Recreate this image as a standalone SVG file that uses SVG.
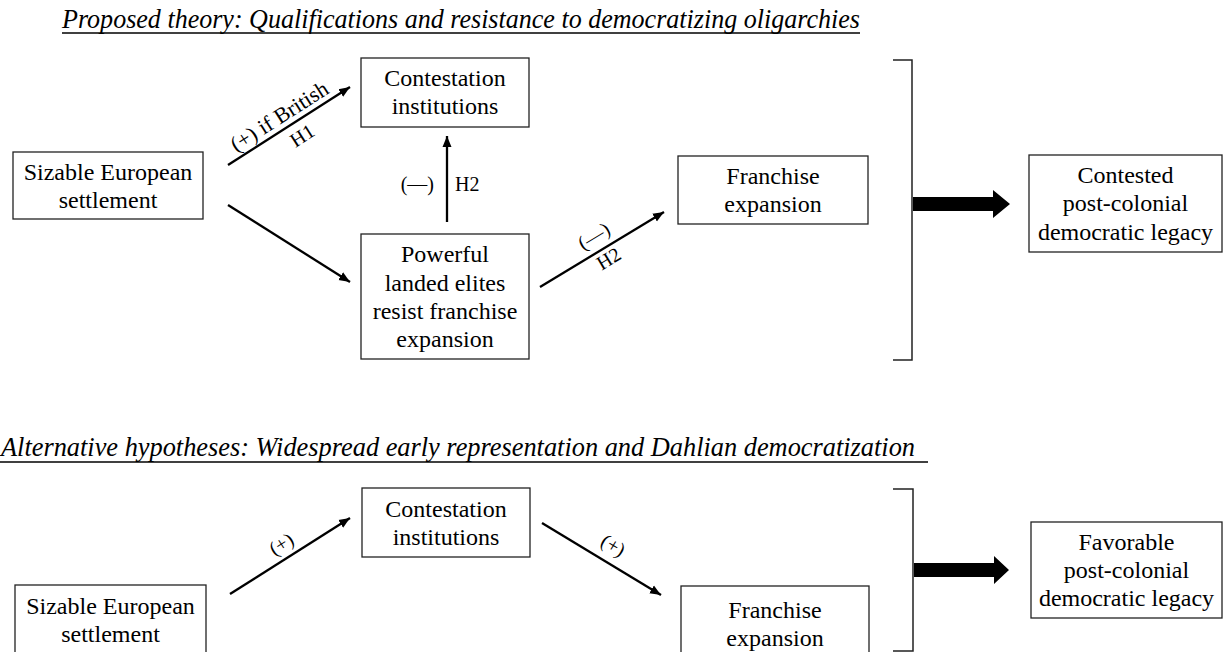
<svg xmlns="http://www.w3.org/2000/svg" width="1225" height="652" viewBox="0 0 1225 652">
  <style>
    .box { fill: #fff; stroke: #222; stroke-width: 1.3; }
    .t { font-family: "Liberation Serif", "Times New Roman", serif; font-size: 24px; fill: #000; text-anchor: middle; }
    .lbl { font-family: "Liberation Serif", "Times New Roman", serif; font-size: 20px; fill: #000; text-anchor: middle; }
    .title { font-family: "Liberation Serif", "Times New Roman", serif; font-size: 28px; font-style: italic; fill: #000; }
    .ul { stroke: #000; stroke-width: 1.3; }
    .conn { stroke: #000; stroke-width: 2.3; fill: none; marker-end: url(#ah); }
    .brk { stroke: #222; stroke-width: 1.5; fill: none; }
    .big { fill: #000; }
  </style>
  <defs>
    <marker id="ah" markerUnits="userSpaceOnUse" markerWidth="12" markerHeight="10" refX="11" refY="5" orient="auto">
      <path d="M0,0.5 L11,5 L0,9.5 z" fill="#000"/>
    </marker>
  </defs>

  <g id="titles">
    <text class="title" x="62" y="28" textLength="798" lengthAdjust="spacingAndGlyphs">Proposed theory: Qualifications and resistance to democratizing oligarchies</text>
    <line class="ul" x1="62" y1="33" x2="860" y2="33"/>
    <text class="title" x="1" y="456" textLength="914" lengthAdjust="spacingAndGlyphs">Alternative hypotheses: Widespread early representation and Dahlian democratization</text>
    <line class="ul" x1="0" y1="462" x2="928" y2="462"/>
  </g>

  <g id="connectors">
    <line class="conn" x1="228" y1="165" x2="350" y2="87"/>
    <line class="conn" x1="228" y1="205" x2="350" y2="282"/>
    <line class="conn" x1="447" y1="222" x2="447" y2="136"/>
    <line class="conn" x1="540" y1="287" x2="664" y2="212"/>
    <line class="conn" x1="230" y1="594" x2="350" y2="518"/>
    <line class="conn" x1="542" y1="523" x2="661" y2="595"/>

    <g transform="translate(289,126) rotate(-32.6)">
      <text class="lbl" x="-3" y="-6" style="font-size:22px">(+) if British</text>
      <text class="lbl" x="6" y="22">H1</text>
    </g>
    <text class="lbl" x="434" y="191" style="text-anchor:end">(—)</text>
    <text class="lbl" x="455" y="191" style="text-anchor:start">H2</text>
    <g transform="translate(602,249.5) rotate(-31.2)">
      <text class="lbl" x="0" y="-9">(—)</text>
      <text class="lbl" x="1" y="18">H2</text>
    </g>
    <g transform="translate(290,556) rotate(-32.3)">
      <text class="lbl" x="-1" y="-8">(+)</text>
    </g>
    <g transform="translate(601.5,559) rotate(31.2)">
      <text class="lbl" x="3" y="-11">(+)</text>
    </g>

    <path class="brk" d="M893,60 H912 V360 H893"/>
    <path class="big" d="M913,197 H993 V190 L1010,204 L993,218 V211 H913 Z"/>
    <path class="brk" d="M893,489 H913 V651 H893"/>
    <path class="big" d="M914,563 H994 V556 L1009,570 L994,584 V577 H914 Z"/>
  </g>

  <g id="n-settlement-1">
    <rect class="box" x="13" y="152" width="190" height="67"/>
    <text class="t" x="108" y="180">Sizable European</text>
    <text class="t" x="108" y="208">settlement</text>
  </g>
  <g id="n-contestation-1">
    <rect class="box" x="361" y="58" width="168" height="69"/>
    <text class="t" x="445" y="86">Contestation</text>
    <text class="t" x="445" y="114">institutions</text>
  </g>
  <g id="n-elites">
    <rect class="box" x="361" y="234" width="168" height="125"/>
    <text class="t" x="445" y="262">Powerful</text>
    <text class="t" x="445" y="291">landed elites</text>
    <text class="t" x="445" y="319">resist franchise</text>
    <text class="t" x="445" y="347">expansion</text>
  </g>
  <g id="n-franchise-1">
    <rect class="box" x="678" y="156" width="190" height="68"/>
    <text class="t" x="773" y="184">Franchise</text>
    <text class="t" x="773" y="212">expansion</text>
  </g>
  <g id="n-contested">
    <rect class="box" x="1029" y="155" width="193" height="97"/>
    <text class="t" x="1125.5" y="183">Contested</text>
    <text class="t" x="1125.5" y="211">post-colonial</text>
    <text class="t" x="1125.5" y="240">democratic legacy</text>
  </g>

  <g id="n-settlement-2">
    <rect class="box" x="15" y="585" width="191" height="100"/>
    <text class="t" x="110.5" y="614">Sizable European</text>
    <text class="t" x="110.5" y="642">settlement</text>
  </g>
  <g id="n-contestation-2">
    <rect class="box" x="362" y="488" width="168" height="69"/>
    <text class="t" x="446" y="517">Contestation</text>
    <text class="t" x="446" y="545">institutions</text>
  </g>
  <g id="n-franchise-2">
    <rect class="box" x="681" y="586" width="188" height="100"/>
    <text class="t" x="775" y="618">Franchise</text>
    <text class="t" x="775" y="646">expansion</text>
  </g>
  <g id="n-favorable">
    <rect class="box" x="1031" y="522" width="191" height="96"/>
    <text class="t" x="1126.5" y="550">Favorable</text>
    <text class="t" x="1126.5" y="578">post-colonial</text>
    <text class="t" x="1126.5" y="606">democratic legacy</text>
  </g>
</svg>
